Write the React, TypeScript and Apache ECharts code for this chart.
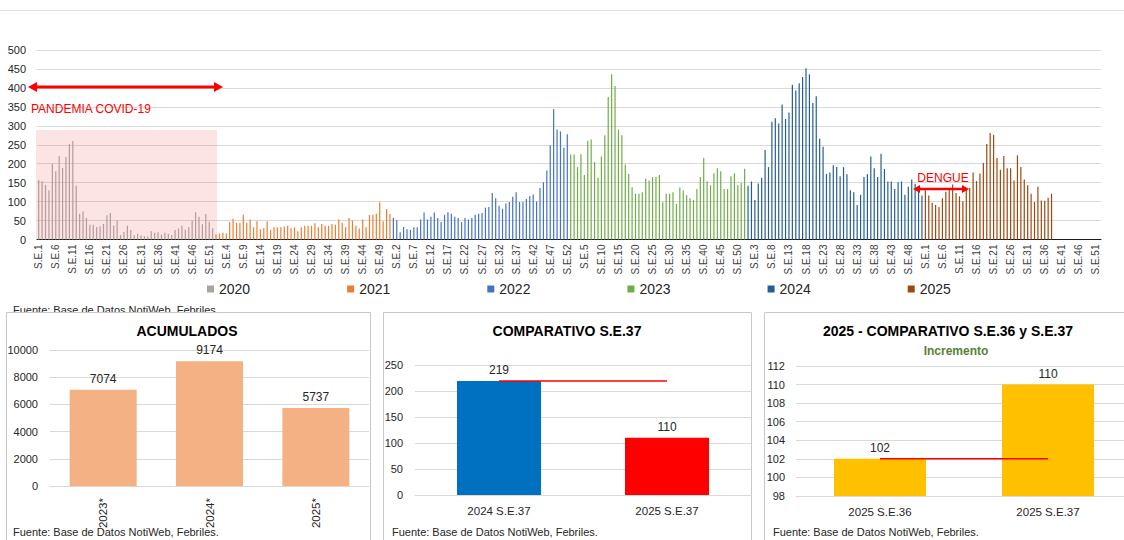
import React, { useEffect, useRef } from "react";
import * as echarts from "echarts";

// ---------- DATA ----------
const years = ["2020", "2021", "2022", "2023", "2024", "2025"];
const yearColors = ["#a5a5a5", "#ed7d31", "#4472c4", "#70ad47", "#255e91", "#9e480e"];
const WEEKS = 52;

const y2020 = [157, 154, 144, 130, 200, 180, 220, 189, 218, 252, 260, 142, 68, 74, 57, 39, 39, 33, 35, 41, 64, 70, 37, 51, 12, 20, 36, 25, 11, 15, 11, 9, 8, 22, 18, 19, 13, 18, 15, 12, 25, 29, 36, 26, 32, 50, 72, 60, 40, 67, 47, 30];
const y2021 = [13, 16, 18, 16, 46, 55, 44, 44, 65, 44, 53, 32, 48, 27, 30, 48, 25, 32, 32, 32, 34, 36, 30, 32, 22, 32, 36, 36, 36, 43, 32, 41, 36, 36, 41, 39, 53, 44, 32, 57, 50, 36, 29, 53, 32, 65, 65, 68, 98, 48, 80, 67];
const y2022 = [57, 51, 19, 33, 27, 25, 32, 32, 53, 71, 53, 60, 71, 57, 46, 65, 72, 68, 60, 57, 46, 57, 53, 57, 65, 68, 70, 84, 86, 123, 109, 89, 81, 95, 99, 113, 125, 99, 99, 107, 115, 119, 100, 136, 151, 182, 249, 344, 290, 285, 242, 278];
const y2023 = [224, 224, 191, 225, 170, 260, 264, 204, 163, 219, 275, 376, 436, 405, 290, 275, 198, 173, 138, 121, 121, 125, 160, 156, 165, 165, 170, 98, 121, 121, 125, 94, 137, 129, 117, 109, 104, 133, 165, 215, 154, 143, 175, 188, 180, 133, 133, 167, 175, 144, 149, 187];
const y2024 = [142, 153, 104, 148, 163, 236, 191, 311, 320, 306, 356, 318, 335, 408, 393, 412, 429, 452, 436, 360, 378, 266, 245, 173, 177, 196, 191, 167, 191, 172, 130, 125, 91, 118, 165, 172, 219, 188, 165, 226, 186, 153, 153, 133, 151, 153, 118, 139, 158, 147, 125, 116];
const y2025 = [130, 116, 97, 91, 86, 109, 126, 135, 145, 123, 114, 101, 133, 136, 177, 154, 174, 202, 252, 281, 276, 215, 184, 220, 188, 188, 156, 222, 191, 158, 143, 121, 99, 139, 103, 102, 110, 121];
const yearValues = [y2020, y2021, y2022, y2023, y2024, y2025];
const topTicks = { min: 0, max: 500, interval: 50 };

const acumCategories = ["2023*", "2024*", "2025*"];
const acumValues = [7074, 9174, 5737];

const cmpCategories = ["2024 S.E.37", "2025 S.E.37"];
const cmpValues = [219, 110];
const cmpColors = ["#0070c0", "#ff0000"];

const incCategories = ["2025 S.E.36", "2025 S.E.37"];
const incValues = [102, 110];

const FONT = "'Liberation Sans', Arial, sans-serif";
const FUENTE = "Fuente: Base de Datos NotiWeb, Febriles.";

const categories = years.flatMap(() =>
  Array.from({ length: WEEKS }, (_, k) => `S.E.${k + 1}`)
);

export default function App() {
  const ref = useRef<HTMLDivElement>(null);

  useEffect(() => {
    if (!ref.current) return;
    const chart = echarts.init(ref.current, undefined, { renderer: "svg" });

    const topSeries = years.map((name, idx) => ({
      name,
      type: "bar",
      stack: "weeks",
      xAxisIndex: 0,
      yAxisIndex: 0,
      barWidth: 1.2,
      itemStyle: { color: yearColors[idx] },
      data: categories.map((_, i) => {
        const yi = Math.floor(i / WEEKS);
        const w = i % WEEKS;
        return yi === idx && w < yearValues[idx].length ? yearValues[idx][w] : "-";
      }),
    }));

    const smallY = (min: number, max: number, interval: number, gi: number, margin = 12) => ({
      type: "value",
      gridIndex: gi,
      min,
      max,
      interval,
      axisLine: { show: false },
      axisTick: { show: false },
      axisLabel: { fontSize: 11, color: "#262626", margin, fontFamily: FONT, formatter: (v: number) => String(v) },
      splitLine: { lineStyle: { color: "#d9d9d9" } },
    });
    const smallX = (data: string[], gi: number, rotate = 0, margin = 10) => ({
      type: "category",
      gridIndex: gi,
      data,
      axisLine: { lineStyle: { color: "#d9d9d9" } },
      axisTick: { show: false },
      axisLabel: { fontSize: 11.5, color: "#262626", rotate, margin, fontFamily: FONT },
    });
    const barLabel = { show: true, position: "top", fontSize: 12, color: "#262626", fontFamily: FONT };

    const arrowHead = (pts: number[][]) => ({
      type: "polygon",
      shape: { points: pts },
      style: { fill: "#ff0000" },
      z: 101,
    });
    const source = (x: number, y: number, z: number) => ({
      type: "text",
      x,
      y,
      style: { text: FUENTE, fontSize: 11, fill: "#262626", fontFamily: FONT, verticalAlign: "middle" },
      z,
    });

    const option: any = {
      animation: false,
      textStyle: { fontFamily: FONT },
      legend: {
        data: years,
        left: 207,
        top: 282,
        padding: 0,
        itemWidth: 7,
        itemHeight: 7,
        itemGap: 97,
        icon: "rect",
        textStyle: { fontSize: 14, color: "#262626", fontFamily: FONT },
      },
      grid: [
        { left: 37, top: 50, width: 1064, height: 189.5, outerBoundsMode: "none" },
        { left: 50, top: 350, width: 319, height: 136, outerBoundsMode: "none" },
        { left: 415, top: 365, width: 336, height: 130, outerBoundsMode: "none" },
        { left: 796, top: 366, width: 336, height: 130, outerBoundsMode: "none" },
      ],
      xAxis: [
        {
          type: "category",
          gridIndex: 0,
          data: categories,
          axisLine: { lineStyle: { color: "#1a1a1a", width: 1 } },
          axisTick: { show: false },
          axisLabel: { interval: 4, rotate: 90, fontSize: 10, color: "#404040", margin: 5, fontFamily: FONT },
        },
        smallX(acumCategories, 1, 90, 12),
        smallX(cmpCategories, 2, 0, 10),
        smallX(incCategories, 3, 0, 10),
      ],
      yAxis: [
        {
          type: "value",
          gridIndex: 0,
          min: topTicks.min,
          max: topTicks.max,
          interval: topTicks.interval,
          axisLine: { show: false },
          axisTick: { show: false },
          axisLabel: { fontSize: 11, color: "#262626", margin: 11, fontFamily: FONT },
          splitLine: { lineStyle: { color: "#d9d9d9" } },
        },
        smallY(0, 10000, 2000, 1),
        smallY(0, 250, 50, 2),
        smallY(98, 112, 2, 3, 11),
      ],
      series: [
        ...topSeries,
        {
          type: "bar",
          xAxisIndex: 1,
          yAxisIndex: 1,
          barWidth: 67,
          itemStyle: { color: "#f4b183" },
          label: barLabel,
          data: acumValues,
        },
        {
          type: "bar",
          xAxisIndex: 2,
          yAxisIndex: 2,
          barWidth: 84,
          label: barLabel,
          data: cmpValues.map((v, i) => ({ value: v, itemStyle: { color: cmpColors[i] } })),
        },
        {
          type: "line",
          xAxisIndex: 2,
          yAxisIndex: 2,
          symbol: "none",
          silent: true,
          z: 5,
          lineStyle: { color: "#ff0000", width: 1.5 },
          data: [cmpValues[0], cmpValues[0]],
        },
        {
          type: "bar",
          xAxisIndex: 3,
          yAxisIndex: 3,
          barWidth: 92,
          itemStyle: { color: "#ffc000" },
          label: barLabel,
          data: incValues,
        },
        {
          type: "line",
          xAxisIndex: 3,
          yAxisIndex: 3,
          symbol: "none",
          silent: true,
          z: 5,
          lineStyle: { color: "#ff0000", width: 1.5 },
          data: [incValues[0], incValues[0]],
        },
      ],
      graphic: [
        { type: "line", shape: { x1: 0, y1: 10.5, x2: 1124, y2: 10.5 }, style: { stroke: "#e3e3e3", lineWidth: 1 }, z: -30 },
        // top source text (partly covered by panels)
        source(13, 310, -30),
        // panel frames
        { type: "rect", shape: { x: 6.5, y: 312.5, width: 364, height: 240 }, style: { fill: "#ffffff", stroke: "#c8c8c8", lineWidth: 1 }, z: -20 },
        { type: "rect", shape: { x: 383.5, y: 312.5, width: 368, height: 240 }, style: { fill: "#ffffff", stroke: "#c8c8c8", lineWidth: 1 }, z: -20 },
        { type: "rect", shape: { x: 764.5, y: 312.5, width: 370, height: 240 }, style: { fill: "#ffffff", stroke: "#c8c8c8", lineWidth: 1 }, z: -20 },
        // panel titles
        { type: "text", x: 187, y: 331, style: { text: "ACUMULADOS", fontSize: 14, fontWeight: "bold", fill: "#000", fontFamily: FONT, align: "center", verticalAlign: "middle" }, z: 100 },
        { type: "text", x: 567, y: 331, style: { text: "COMPARATIVO S.E.37", fontSize: 14, fontWeight: "bold", fill: "#000", fontFamily: FONT, align: "center", verticalAlign: "middle" }, z: 100 },
        { type: "text", x: 948, y: 331, style: { text: "2025 - COMPARATIVO S.E.36 y S.E.37", fontSize: 14, fontWeight: "bold", fill: "#000", fontFamily: FONT, align: "center", verticalAlign: "middle" }, z: 100 },
        { type: "text", x: 956, y: 351, style: { text: "Incremento", fontSize: 12, fontWeight: "bold", fill: "#548235", fontFamily: FONT, align: "center", verticalAlign: "middle" }, z: 100 },
        // panel sources
        source(13, 532, 100),
        source(392, 532, 100),
        source(773, 532, 100),
        // pandemic annotation
        { type: "rect", shape: { x: 36, y: 130, width: 181, height: 109 }, style: { fill: "rgba(245,120,120,0.2)" }, z: 100 },
        { type: "line", shape: { x1: 35, y1: 87, x2: 216, y2: 87 }, style: { stroke: "#ff0000", lineWidth: 3 }, z: 101 },
        arrowHead([[28, 87], [37, 82], [37, 92]]),
        arrowHead([[223, 87], [214, 82], [214, 92]]),
        { type: "text", x: 31, y: 109, style: { text: "PANDEMIA COVID-19", fontSize: 12, fill: "#ff0000", fontFamily: FONT, verticalAlign: "middle" }, z: 101 },
        // dengue annotation
        { type: "line", shape: { x1: 918, y1: 189, x2: 964, y2: 189 }, style: { stroke: "#ff0000", lineWidth: 2.5 }, z: 101 },
        arrowHead([[913, 189], [920, 185], [920, 193]]),
        arrowHead([[969, 189], [962, 185], [962, 193]]),
        { type: "text", x: 943, y: 178, style: { text: "DENGUE", fontSize: 12, fill: "#ff0000", fontFamily: FONT, align: "center", verticalAlign: "middle" }, z: 101 },
      ],
    };

    chart.setOption(option);
    return () => chart.dispose();
  }, []);

  return (
    <div
      ref={ref}
      style={{ position: "absolute", left: 0, top: 0, width: 1124, height: 540, background: "#fff" }}
    />
  );
}
